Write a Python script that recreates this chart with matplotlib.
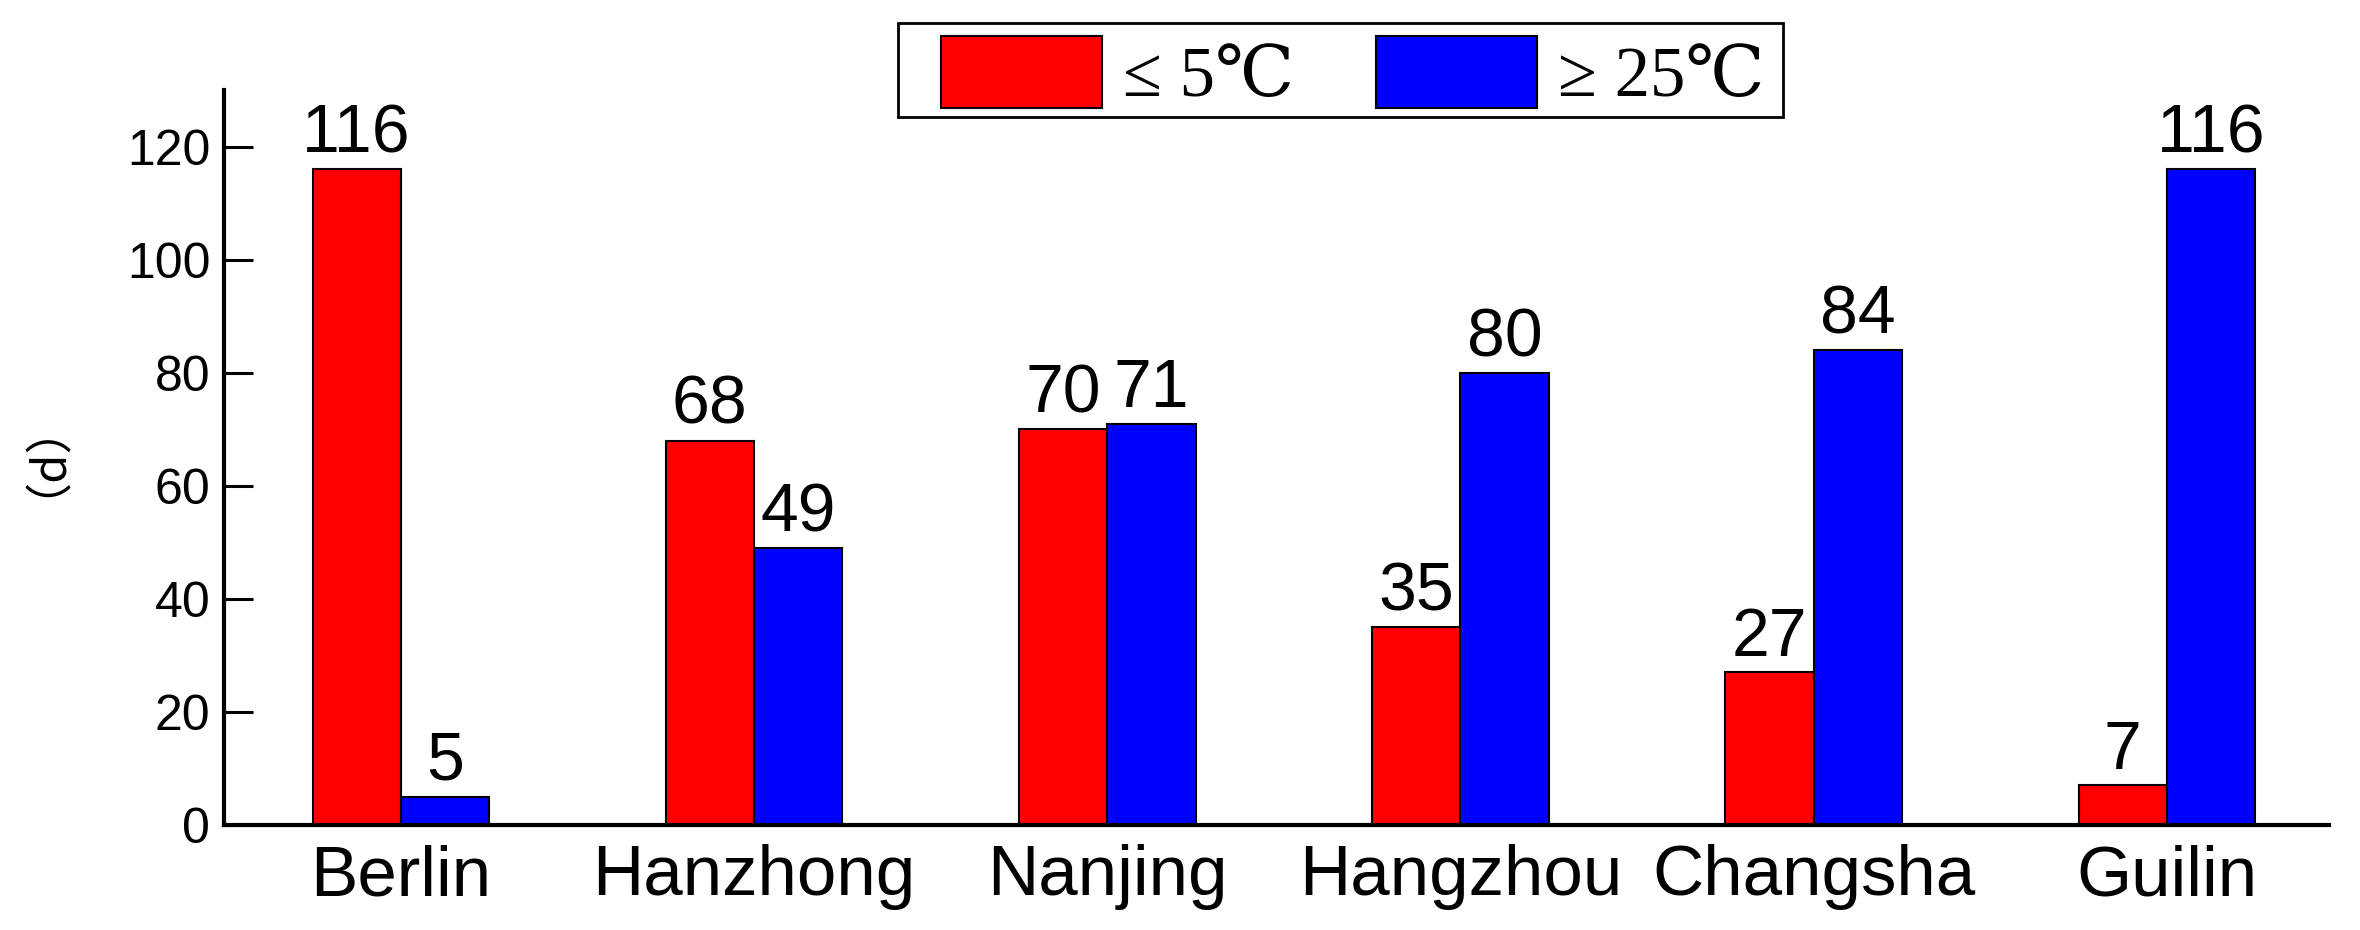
import numpy as np
import matplotlib
matplotlib.use('Agg')
import matplotlib.pyplot as plt
from matplotlib.patches import Rectangle

# Dados
cidades = ['Berlin', 'Hanzhong', 'Nanjing', 'Hangzhou', 'Changsha', 'Guilin']
dias_frios = [116, 68, 70, 35, 27, 7]      # <= 5 C
dias_quentes = [5, 49, 71, 80, 84, 116]    # >= 25 C
rotulos = ['≤ 5℃', '≥ 25℃']

plt.rcParams['font.family'] = ['Liberation Sans', 'DejaVu Sans']

fig = plt.figure(figsize=(23.6, 9.3), dpi=100)
ax = fig.add_axes([0.095, 0.113, 0.892, 0.79])

x = np.arange(len(cidades))
largura = 0.25
b1 = ax.bar(x - largura / 2, dias_frios, largura, color='#ff0000', edgecolor='black', linewidth=1.5, label=rotulos[0])
b2 = ax.bar(x + largura / 2, dias_quentes, largura, color='#0000ff', edgecolor='black', linewidth=1.5, label=rotulos[1])

ax.bar_label(b1, padding=2, fontsize=49)
ax.bar_label(b2, padding=2, fontsize=49)

ax.set_xlim(-0.5, 5.46)
ax.set_ylim(0, 130)
ax.set_yticks(range(0, 121, 20))
ax.set_xticks(x)
ax.set_xticklabels(cidades, fontsize=51)
ax.tick_params(axis='y', direction='in', length=21, width=2.2, labelsize=36, pad=10)
ax.tick_params(axis='x', length=0, pad=14)

for lado in ['top', 'right']:
    ax.spines[lado].set_visible(False)
for lado in ['left', 'bottom']:
    ax.spines[lado].set_linewidth(3)

ax.set_ylabel('（d）', fontsize=34, family=['Noto Sans CJK SC', 'DejaVu Sans'])
ax.yaxis.label.set(va='center', rotation_mode='default')
ax.yaxis.set_label_coords(-0.097, 0.53)

# legenda sem moldura + moldura desenhada à parte
leg = fig.legend(loc='upper left', bbox_to_anchor=(941 / 2360, 1 - 36 / 930), ncol=2,
                 prop={'family': ['Liberation Serif', 'DejaVu Serif', 'Noto Sans CJK SC'], 'size': 51},
                 frameon=False, handlelength=2.27, handleheight=1.19, handletextpad=0.3,
                 columnspacing=1.15, borderpad=0, borderaxespad=0)
fig.add_artist(Rectangle((898 / 2360, 1 - 117 / 930), (1783 - 898) / 2360, 94 / 930,
                         transform=fig.transFigure, fill=False, edgecolor='black', linewidth=2))

fig.savefig('out.png', dpi=100)
